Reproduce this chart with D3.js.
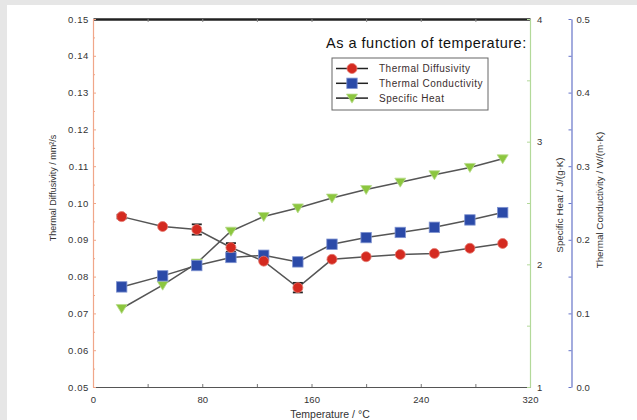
<!DOCTYPE html>
<html>
<head>
<meta charset="utf-8">
<script src="https://cdn.jsdelivr.net/npm/d3@7"></script>
<style>
  html, body { margin: 0; padding: 0; background: #e6e6e6; }
  svg { display: block; }
  text { font-family: "Liberation Sans", Arial, sans-serif; }
</style>
</head>
<body>
<svg id="chart" width="637" height="420"></svg>
<script>
// Measurement temperatures (°C)
const temperature = [21, 51, 76, 101, 125, 150, 175, 200, 225, 250, 276, 300];
// Thermal diffusivity (mm²/s) with its standard deviation
const diffusivity = [0.0963, 0.0936, 0.0928, 0.0879, 0.0842, 0.0770, 0.0847, 0.0854, 0.0860, 0.0863, 0.0877, 0.0890];
const diffusivityErr = [0.0005, 0, 0.0014, 0.0012, 0, 0.0013, 0, 0, 0, 0, 0, 0];
// Thermal conductivity (W/(m·K))
const conductivity = [0.136, 0.151, 0.165, 0.176, 0.179, 0.170, 0.194, 0.203, 0.210, 0.217, 0.227, 0.237];
// Specific heat (J/(g·K))
const specificHeat = [1.64, 1.83, 2.01, 2.27, 2.39, 2.46, 2.54, 2.61, 2.67, 2.73, 2.79, 2.86];

const xTicks = [0, 40, 80, 120, 160, 200, 240, 280, 320];
const leftTicks = [0.05, 0.06, 0.07, 0.08, 0.09, 0.10, 0.11, 0.12, 0.13, 0.14, 0.15];
const heatTicks = [1, 1.5, 2, 2.5, 3, 3.5, 4];
const condTicks = [0, 0.05, 0.1, 0.15, 0.2, 0.25, 0.3, 0.35, 0.4, 0.45, 0.5];

const legendItems = [
  { name: "Thermal Diffusivity", shape: "circle" },
  { name: "Thermal Conductivity", shape: "square" },
  { name: "Specific Heat", shape: "triangle" }
];

const svg = d3.select("#chart");
svg.append("rect").attr("x", 7).attr("y", 5).attr("width", 630).attr("height", 415).attr("fill", "#fff");

const L = 93, R = 530, T = 19, B = 387, RB = 571.5;
const x = d3.scaleLinear().domain([0, 320]).range([L, R]);
const yD = d3.scaleLinear().domain([0.05, 0.15]).range([B, T]);
const yH = d3.scaleLinear().domain([1, 4]).range([B, T]);
const yC = d3.scaleLinear().domain([0, 0.5]).range([B, T]);

const RED = "#d42a20", BLUE = "#2b4aa8", GREEN = "#8cc63f";
const AX_L = "#f0a689", AX_G = "#b3d99a", AX_B = "#6674c8";

function styleAxis(g, lineColor, tickColor, size) {
  g.select(".domain").attr("stroke", lineColor).attr("stroke-width", 1.2);
  g.selectAll(".tick line").attr("stroke", tickColor);
  g.selectAll(".tick text").attr("fill", "#333").attr("font-size", size || 9);
}

// bottom axis
const gB = svg.append("g").attr("transform", `translate(0,${B})`)
  .call(d3.axisBottom(x).tickValues(xTicks).tickSizeInner(-3).tickSizeOuter(0).tickPadding(9)
    .tickFormat(d => d % 80 === 0 ? d : ""));
styleAxis(gB, "#555", "#777", 9.5);

// top border with ticks pointing down
const gT = svg.append("g").attr("transform", `translate(0,${T})`)
  .call(d3.axisTop(x).tickValues(xTicks).tickSizeInner(-3).tickSizeOuter(0).tickFormat(""));
gT.select(".domain").attr("stroke", "#222").attr("stroke-width", 2.6);
gT.selectAll(".tick line").attr("stroke", "#888");

// left axis: thermal diffusivity
const gL = svg.append("g").attr("transform", `translate(${L},0)`)
  .call(d3.axisLeft(yD).tickValues(leftTicks).tickSizeInner(-3).tickSizeOuter(0).tickPadding(4)
    .tickFormat(d3.format(".2f")));
styleAxis(gL, AX_L, AX_L, 9.5);
gL.selectAll(".tick text").attr("letter-spacing", 0.6);
svg.append("g").attr("transform", `translate(${L},0)`)
  .call(d3.axisLeft(yD).tickValues(leftTicks.slice(0, -1).map(v => v + 0.005)).tickSizeInner(-2).tickSizeOuter(0).tickFormat(""))
  .call(g => { g.select(".domain").remove(); g.selectAll(".tick line").attr("stroke", AX_L); });

// right axis: specific heat
const gH = svg.append("g").attr("transform", `translate(${R},0)`)
  .call(d3.axisRight(yH).tickValues(heatTicks).tickSizeInner(-3).tickSizeOuter(0).tickPadding(7)
    .tickFormat(d => Number.isInteger(d) ? d : ""));
styleAxis(gH, AX_G, AX_G, 9.5);

// outer right axis: thermal conductivity
const gC = svg.append("g").attr("transform", `translate(${RB},0)`)
  .call(d3.axisRight(yC).tickValues(condTicks).tickSizeInner(-3).tickSizeOuter(0).tickPadding(5)
    .tickFormat(d => Math.round(d * 100) % 10 === 0 ? d3.format(".1f")(d) : ""));
styleAxis(gC, AX_B, AX_B, 9.5);

// axis titles
svg.append("text").attr("transform", `translate(56,188) rotate(-90)`).attr("text-anchor", "middle")
  .attr("font-size", 9).attr("fill", "#333").text("Thermal Diffusivity / mm²/s");
svg.append("text").attr("transform", `translate(563,205) rotate(-90)`).attr("text-anchor", "middle")
  .attr("font-size", 9.8).attr("fill", "#333").text("Specific Heat / J/(g·K)");
svg.append("text").attr("transform", `translate(603,200) rotate(-90)`).attr("text-anchor", "middle")
  .attr("font-size", 9.8).attr("fill", "#333").text("Thermal Conductivity / W/(m·K)");
svg.append("text").attr("x", 330).attr("y", 418).attr("text-anchor", "middle")
  .attr("font-size", 10.5).attr("fill", "#333").text("Temperature / °C");

// marker drawing helper
function marker(g, shape, cx, cy) {
  if (shape === "circle") {
    g.append("circle").attr("cx", cx).attr("cy", cy).attr("r", 5)
      .attr("fill", RED).attr("stroke", "#e57a70").attr("stroke-width", 0.8);
  } else if (shape === "square") {
    g.append("rect").attr("x", cx - 5.2).attr("y", cy - 5.2).attr("width", 10.4).attr("height", 10.4)
      .attr("fill", BLUE).attr("stroke", "#7f93d0").attr("stroke-width", 0.8);
  } else {
    g.append("path").attr("d", `M${cx - 5.5},${cy - 4} L${cx + 5.5},${cy - 4} L${cx},${cy + 5} Z`)
      .attr("fill", GREEN).attr("stroke", "#b8dc8c").attr("stroke-width", 0.8);
  }
}

const series = [
  { vals: specificHeat, y: yH, shape: "triangle" },
  { vals: conductivity, y: yC, shape: "square" },
  { vals: diffusivity, y: yD, shape: "circle" }
];

const plot = svg.append("g");
// connecting lines
series.forEach(s => {
  const line = d3.line().x((d, i) => x(temperature[i])).y(d => s.y(d));
  plot.append("path").datum(s.vals).attr("d", line).attr("fill", "none")
    .attr("stroke", "#555").attr("stroke-width", 1.5);
});

// error bars on diffusivity
diffusivity.forEach((v, i) => {
  const e = diffusivityErr[i];
  if (!e) return;
  const cx = x(temperature[i]);
  const y1 = yD(v + e), y2 = yD(v - e);
  plot.append("line").attr("x1", cx).attr("x2", cx).attr("y1", y1).attr("y2", y2).attr("stroke", "#222").attr("stroke-width", 1.4);
  [y1, y2].forEach(yy => plot.append("line").attr("x1", cx - 5).attr("x2", cx + 5).attr("y1", yy).attr("y2", yy)
    .attr("stroke", "#222").attr("stroke-width", 1.8));
});

// markers
series.forEach(s => {
  s.vals.forEach((v, i) => marker(plot, s.shape, x(temperature[i]), s.y(v)));
});

// legend
svg.append("text").attr("x", 326).attr("y", 48).attr("font-size", 14.5).attr("letter-spacing", 0.5).attr("fill", "#111")
  .text("As a function of temperature:");
const lg = svg.append("g");
lg.append("rect").attr("x", 332).attr("y", 58).attr("width", 156).attr("height", 52)
  .attr("fill", "#fff").attr("stroke", "#666").attr("stroke-width", 1);
legendItems.forEach((it, i) => {
  const yy = 68.5 + i * 14.8;
  lg.append("line").attr("x1", 336).attr("x2", 368).attr("y1", yy).attr("y2", yy)
    .attr("stroke", "#222").attr("stroke-width", 1.5);
  marker(lg, it.shape, 352, yy);
  lg.append("text").attr("x", 379).attr("y", yy + 3.5).attr("font-size", 10).attr("letter-spacing", 0.5)
    .attr("fill", "#3a2e2e").text(it.name);
});
</script>
</body>
</html>
